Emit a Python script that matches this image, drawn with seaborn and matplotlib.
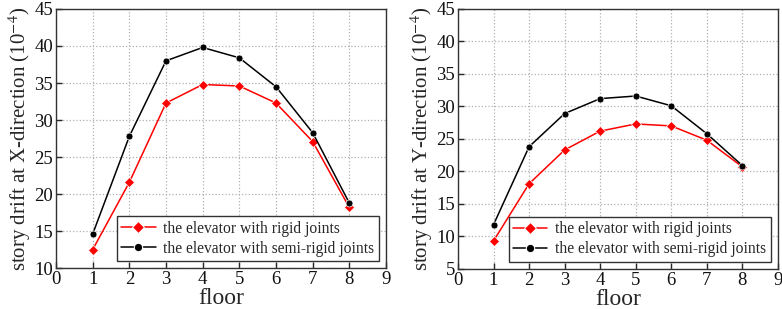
import pandas as pd
import matplotlib.pyplot as plt
import seaborn as sns

floors = [1, 2, 3, 4, 5, 6, 7, 8]
x_rigid = [12.5, 21.6, 32.3, 34.8, 34.6, 32.3, 27.1, 18.2]
x_semi = [14.6, 27.8, 38.0, 39.8, 38.4, 34.5, 28.3, 18.8]
y_rigid = [9.3, 18.1, 23.3, 26.2, 27.3, 27.0, 24.8, 20.7]
y_semi = [11.8, 23.8, 28.9, 31.2, 31.6, 30.1, 25.8, 20.9]

lab_rigid = 'the elevator with rigid joints'
lab_semi = 'the elevator with semi-rigid joints'

sns.set_style("ticks")
plt.rcParams['font.family'] = ['Liberation Serif', 'DejaVu Serif']
plt.rcParams['mathtext.fontset'] = 'stix'


def make_df(rigid, semi):
    return pd.DataFrame({
        'floor': floors * 2,
        'drift': rigid + semi,
        'case': [lab_rigid] * 8 + [lab_semi] * 8,
    })


fig = plt.figure(figsize=(7.82, 3.09), dpi=100)
ax1 = fig.add_axes([0.0716, 0.132, 0.422, 0.839])
ax2 = fig.add_axes([0.5857, 0.130, 0.409, 0.841])

panels = [
    (ax1, make_df(x_rigid, x_semi), 'X', (10, 45)),
    (ax2, make_df(y_rigid, y_semi), 'Y', (5, 45)),
]

for ax, df, d, ylim in panels:
    sns.lineplot(data=df, x='floor', y='drift', hue='case', style='case',
                 palette=['#ff0000', '#000000'], markers=['D', 'o'],
                 dashes=False, linewidth=1.1, ax=ax, legend=True)
    for line, ms in zip(ax.get_lines(), [5.5, 5]):
        line.set_markersize(ms)
        line.set_markeredgewidth(0.5)
    ax.set_xlim(0, 9)
    ax.set_ylim(*ylim)
    ax.set_xticks(range(0, 10))
    ax.set_yticks(range(ylim[0], 46, 5))
    ax.grid(True, linestyle=':', color='#b0b0b0', linewidth=0.9)
    ax.tick_params(direction='in', length=4, labelsize=13.5, width=1,
                   labelcolor='#111111', pad=2)
    for s in ax.spines.values():
        s.set_linewidth(1)
        s.set_color('#333333')
    ax.set_xlabel('floor', fontsize=17, labelpad=0)
    ax.set_ylabel('story drift at %s-direction (10$^{-4}$)' % d, fontsize=15, labelpad=1)
    leg = ax.legend(loc='lower right', fontsize=11.2, frameon=True, fancybox=False,
                    edgecolor='#333333', framealpha=1, borderpad=0.3,
                    labelspacing=0.25, handlelength=2.2, handletextpad=0.5,
                    borderaxespad=0.45)
    leg.get_frame().set_linewidth(1)

plt.savefig('out.png', dpi=100)
